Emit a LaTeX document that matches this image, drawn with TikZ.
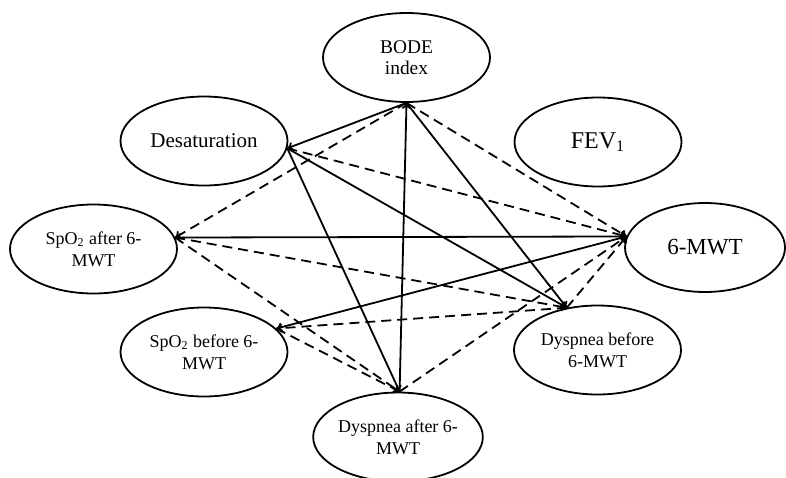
\documentclass[tikz,border=0pt]{standalone}
\usepackage{fontspec}
\setmainfont{Liberation Serif}
\usetikzlibrary{shapes.geometric,arrows.meta}
\tikzset{
  oval/.style={
    draw,
    ellipse,
    line width=0.9pt,
    inner sep=0pt,
    align=center,
    minimum width={#1pt},
    minimum height={44.5pt},
  },
  oval/.default=83.5,
  small text/.style={
    font=\fontsize{9}{11}\selectfont,
  },
  pos link/.style={
    ->,
    line width=0.9pt,
  },
  neg link/.style={
    ->,
    line width=0.9pt,
    dash pattern=on 5pt off 3pt,
  }
}

\begin{document}
\begin{tikzpicture}[x=0.5pt, y=-0.5pt, >={To[length=3pt,width=4.5pt]}]
        \useasboundingbox (0,0) rectangle (786,477);

        \node [oval, font=\fontsize{9.7}{10.5}\selectfont] (bode) at (406.5,57.5) {BODE\\index};
        \node [oval, font=\fontsize{10.5}{12}\selectfont] (desat) at (204,141) {Desaturation};
        \node [oval, font=\fontsize{12}{14}\selectfont] (fev) at (598,142) {FEV\textsubscript{1}};
        \node [oval, small text] (spoa) at (93.5,249) {SpO\textsubscript{2} after 6-\\MWT};
        \node [oval=80, font=\fontsize{11.5}{14}\selectfont] (mwt) at (705,247.5) {6-MWT};
        \node [oval, small text] (spob) at (204,352) {SpO\textsubscript{2} before 6-\\MWT};
        \node [oval, small text] (dysb) at (597.5,350) {Dyspnea before\\6-MWT};
        \node [oval, small text] (dysa) at (398,437) {Dyspnea after 6-\\MWT};

        % solid links
        \draw [pos link] (bode.south) -- (desat.-5);
        \draw [pos link] (desat.-5) -- (dysb.126);
        \draw [pos link] (desat.-5) -- (dysa.88);
        \draw [pos link] (dysa.88) -- (bode.south);
        \draw [pos link] (bode.south) -- (dysb.126);
        \draw [pos link, <->] (spoa.8) -- (mwt.172);
        \draw [pos link] (mwt.172) -- (spob.18);

        % dashed links
        \draw [neg link] (bode.south) -- (spoa.8);
        \draw [neg link] (desat.-5) -- (mwt.172);
        \draw [neg link] (bode.south) -- (mwt.172);
        \draw [neg link] (spoa.8) -- (dysb.126);
        \draw [neg link] (spoa.8) -- (dysa.88);
        \draw [neg link] (dysb.126) -- (spob.18);
        \draw [neg link] (spob.18) -- (dysa.88);
        \draw [neg link] (dysa.88) -- (mwt.172);
        \draw [neg link] (dysb.126) -- (mwt.172);
    \end{tikzpicture}
\end{document}
